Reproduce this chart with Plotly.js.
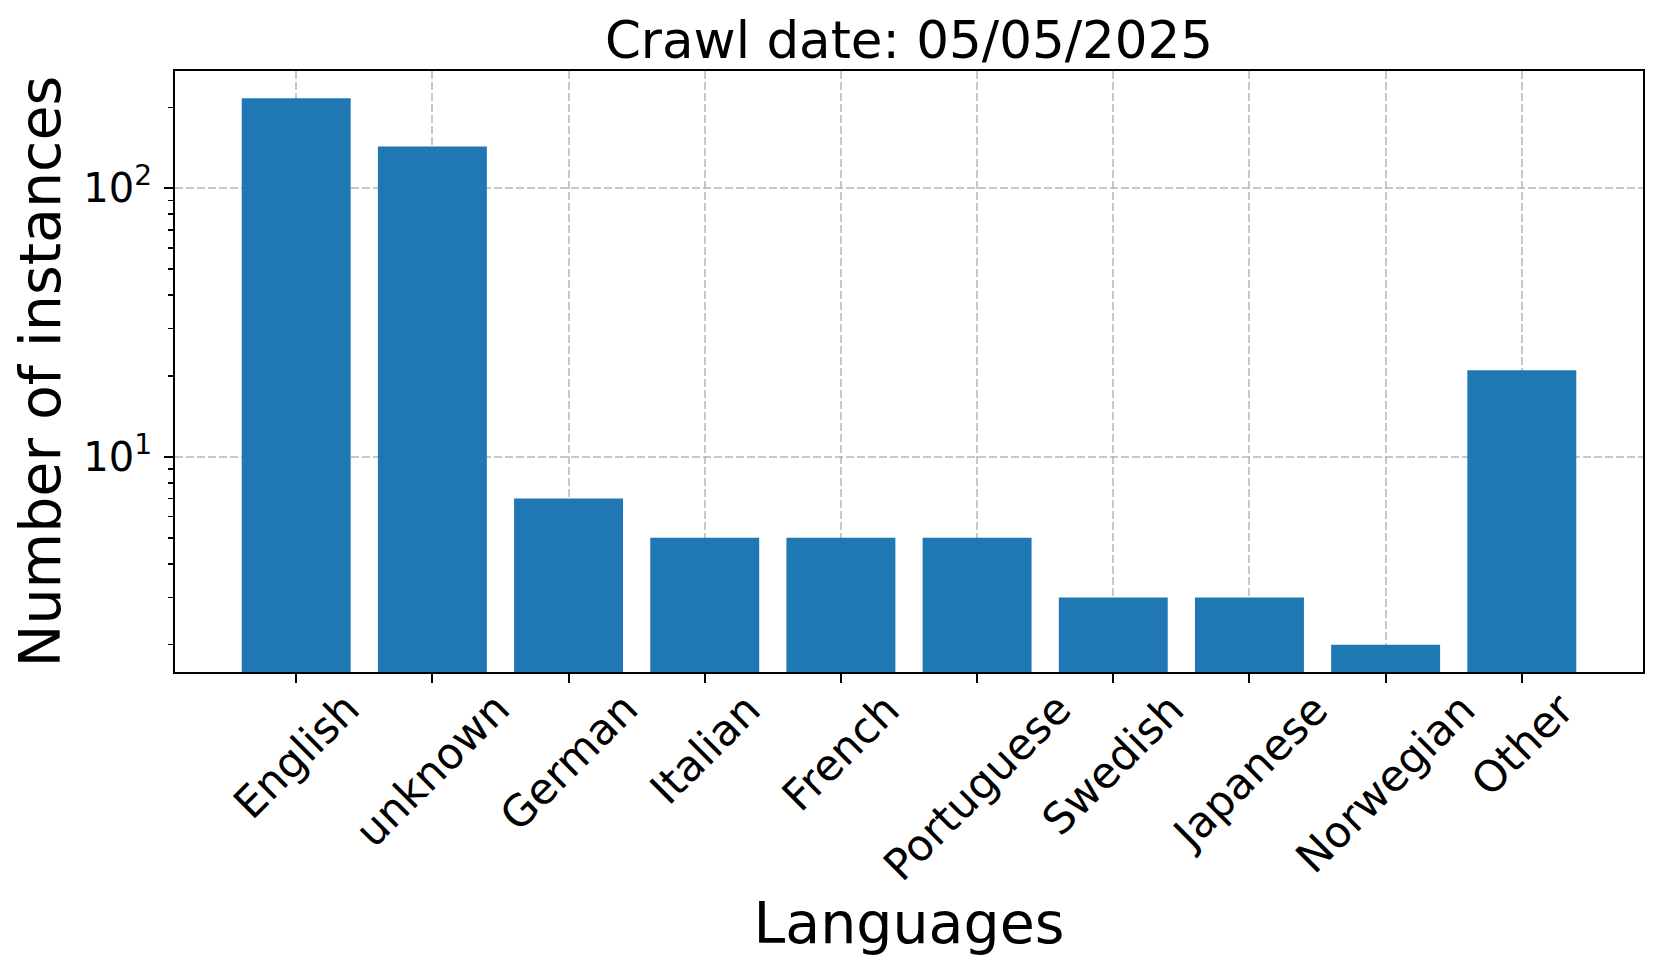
<!DOCTYPE html>
<html>
<head>
<meta charset="utf-8">
<script src="https://cdn.plot.ly/plotly-3.0.1.min.js"></script>
<style>html,body{margin:0;padding:0;background:#fff;}#chart{width:1660px;height:972px;}</style>
</head>
<body>
<div id="chart"></div>
<script>
// ---- data ----
const languages = ['English', 'unknown', 'German', 'Italian', 'French', 'Portuguese', 'Swedish', 'Japanese', 'Norwegian', 'Other'];
const instances = [216, 143, 7, 5, 5, 5, 3, 3, 2, 21];
const majorTickVals = [10, 100];
const majorTickText = ['10<sup>1</sup>', '10<sup>2</sup>'];
const minorTickVals = [2, 3, 4, 5, 6, 7, 8, 9, 20, 30, 40, 50, 60, 70, 80, 90, 200];
const chartTitle = 'Crawl date: 05/05/2025';
const xTitle = 'Languages';
const yTitle = 'Number of instances';

const FONT = 'DejaVu Sans, sans-serif';
const gridColor = 'rgba(176,176,176,0.7)';

const trace = {
  type: 'bar',
  x: languages,
  y: instances,
  marker: {color: '#1f77b4', line: {width: 0}},
  hoverinfo: 'x+y'
};

const tickAnnotations = languages.map(function (lang) {
  return {
    x: lang, xref: 'x',
    y: 0, yref: 'paper',
    text: lang,
    showarrow: false,
    textangle: -45,
    xanchor: 'center', yanchor: 'top',
    yshift: -9,
    font: {family: FONT, size: 43, color: '#000'}
  };
});

const layout = {
  width: 1660, height: 972,
  paper_bgcolor: '#fff', plot_bgcolor: '#fff',
  margin: {l: 175, r: 17, t: 71, b: 300, pad: 0},
  font: {family: FONT, color: '#000'},
  showlegend: false,
  bargap: 0.2,
  title: {
    text: chartTitle,
    font: {family: FONT, size: 51.5, color: '#000'},
    xref: 'paper', x: 0.5, xanchor: 'center',
    yref: 'container', y: 1 - 40 / 972, yanchor: 'middle'
  },
  xaxis: {
    type: 'category',
    range: [-0.89, 9.89],
    showline: true, linecolor: '#000', linewidth: 2, mirror: true,
    ticks: 'outside', ticklen: 9, tickwidth: 2, tickcolor: '#000',
    showticklabels: false,
    showgrid: true, gridcolor: gridColor, gridwidth: 2, griddash: '8px,3px',
    layer: 'above traces',
    zeroline: false,
    title: {text: xTitle, font: {family: FONT, size: 57, color: '#000'}, standoff: 221}
  },
  yaxis: {
    type: 'log',
    range: [0.1994, 2.4361],
    showline: true, linecolor: '#000', linewidth: 2, mirror: true,
    ticks: 'outside', ticklen: 9, tickwidth: 2, tickcolor: '#000',
    tickmode: 'array', tickvals: majorTickVals, ticktext: majorTickText,
    tickfont: {family: FONT, size: 40, color: '#000'},
    ticklabelstandoff: 4,
    minor: {tickmode: 'array', tickvals: minorTickVals, ticks: 'outside', ticklen: 5, tickwidth: 1.5, tickcolor: '#000', showgrid: false},
    showgrid: true, gridcolor: gridColor, gridwidth: 2, griddash: '8px,3px',
    layer: 'above traces',
    zeroline: false,
    title: {text: yTitle, font: {family: FONT, size: 57, color: '#000'}, standoff: 4}
  },
  annotations: tickAnnotations
};

Plotly.newPlot('chart', [trace], layout, {displayModeBar: false, staticPlot: true});
</script>
</body>
</html>
